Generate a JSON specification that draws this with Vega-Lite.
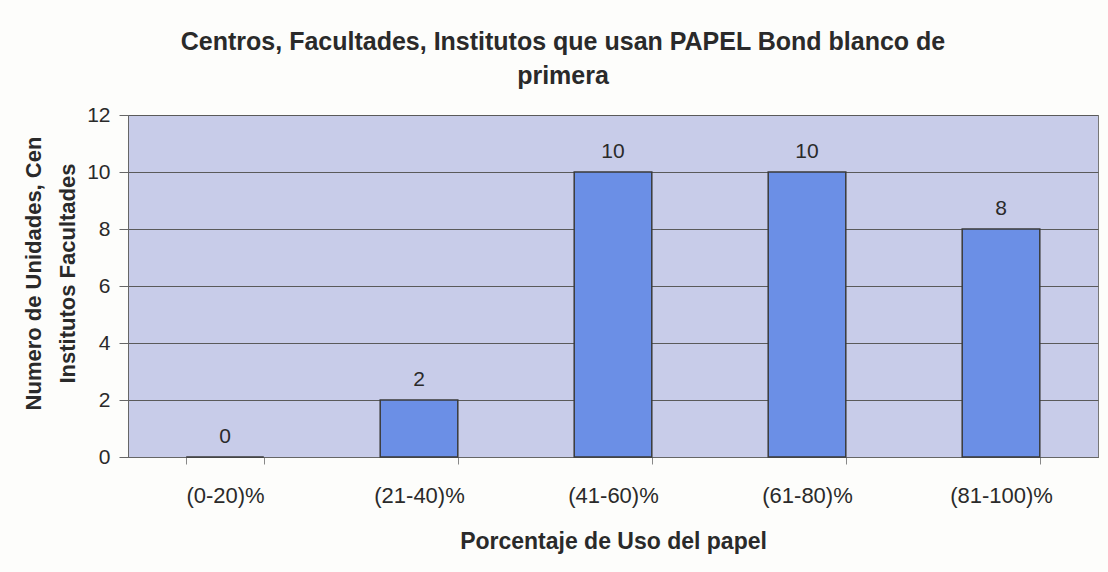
{
  "$schema": "https://vega.github.io/schema/vega-lite/v6.json",
  "autosize": "none",
  "width": 970,
  "height": 342,
  "padding": {"left": 128, "top": 115, "right": 10, "bottom": 115},
  "background": "#fdfdfb",
  "data": {"values": [
    {"rango": "(0-20)%", "n": 0},
    {"rango": "(21-40)%", "n": 2},
    {"rango": "(41-60)%", "n": 10},
    {"rango": "(61-80)%", "n": 10},
    {"rango": "(81-100)%", "n": 8}
  ]},
  "title": {
    "text": ["Centros, Facultades, Institutos que usan PAPEL Bond blanco de", "primera"],
    "font": "Liberation Sans",
    "fontSize": 25,
    "fontWeight": "bold",
    "color": "#2a2a2a",
    "lineHeight": 34,
    "anchor": "middle",
    "dx": -50,
    "offset": 15
  },
  "config": {
    "view": {"fill": "#c8cce9", "stroke": "#777777", "strokeWidth": 1},
    "font": "Liberation Sans"
  },
  "encoding": {
    "x": {
      "field": "rango", "type": "nominal", "sort": null,
      "scale": {"paddingInner": 0.6, "paddingOuter": 0.3},
      "axis": {
        "title": "Porcentaje de Uso del papel",
        "titleFont": "Liberation Sans", "titleFontSize": 23, "titleFontWeight": "bold", "titleColor": "#2a2a2a",
        "titlePadding": 24,
        "labelAngle": 0, "labelFontSize": 22, "labelColor": "#2a2a2a", "labelPadding": 21,
        "tickBand": "extent", "tickSize": 7, "tickColor": "#888888",
        "domainColor": "#666666", "grid": false
      }
    },
    "y": {
      "field": "n", "type": "quantitative",
      "scale": {"domain": [0, 12], "nice": false},
      "axis": {
        "values": [0, 2, 4, 6, 8, 10, 12],
        "title": ["Numero de Unidades, Cen", "Institutos Facultades"],
        "titleFont": "Liberation Sans", "titleFontSize": 22, "titleFontWeight": "bold", "titleColor": "#2a2a2a",
        "titleLineHeight": 34,
        "titleX": -95, "titleY": 158, "titleAlign": "center", "titleBaseline": "middle", "titleAngle": -90,
        "labelFontSize": 21, "labelColor": "#2a2a2a", "labelPadding": 9,
        "tickSize": 9, "tickColor": "#666666", "domainColor": "#666666",
        "grid": true, "gridColor": "#5a5a5a", "gridWidth": 1
      }
    }
  },
  "layer": [
    {
      "mark": {"type": "bar", "fill": "#6b8fe6", "stroke": "#3a3a3a", "strokeWidth": 1.5}
    },
    {
      "mark": {"type": "text", "baseline": "bottom", "dy": -10, "fontSize": 21, "color": "#2a2a2a", "font": "Liberation Sans"},
      "encoding": {"text": {"field": "n", "type": "quantitative"}}
    }
  ]
}
